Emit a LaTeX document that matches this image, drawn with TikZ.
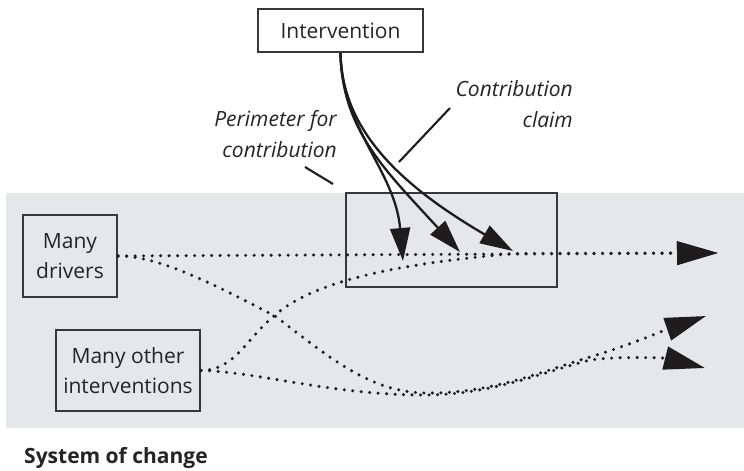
\documentclass[tikz,border=0pt]{standalone}
\usepackage{fontspec}
\setmainfont{Open Sans}
\usetikzlibrary{arrows.meta}
\definecolor{bg}{HTML}{E6E7E9}
\definecolor{frame}{HTML}{383838}
\definecolor{ink}{HTML}{1F1C1D}
\definecolor{txt}{HTML}{242424}
\begin{document}
\begin{tikzpicture}[x=1pt,y=-1pt,
  every node/.style={text=txt, font=\fontsize{21}{30}\selectfont},
  boxnode/.style={draw=frame, line width=2.3pt, inner sep=0pt, align=center},
  lab/.style={font=\fontsize{21}{31}\selectfont\itshape, inner sep=0pt, align=right, anchor=east},
  dots/.style={draw=ink, line width=3.4pt, line cap=round, dash pattern=on 0pt off 8.5pt},
  dtip/.style={-{Triangle[length=41pt,width=23pt]}},
  arr/.style={draw=ink, line width=2.3pt, -{Triangle[length=33pt,width=20pt]}},
  leader/.style={draw=ink, line width=2.1pt}]
\useasboundingbox (0,0) rectangle (744,471);
\fill[bg] (6,193) rectangle (744,428);

% boxes
\node[boxnode, minimum width=165pt, minimum height=43pt] (int) at (340.5,30.5) {Intervention};
\node[boxnode, line width=2.6pt, minimum width=211pt, minimum height=94pt] (per) at (451.5,240) {};
\node[boxnode, minimum width=94pt, minimum height=82pt] (drv) at (70,256) {Many\\drivers};
\node[boxnode, minimum width=144pt, minimum height=81pt] (oth) at (128,370.5) {Many other\\interventions};

% labels
\node[lab] (perl) at (337,134.5) {Perimeter for\\contribution};
\node[lab] (cll) at (573,104.5) {Contribution\\claim};
\node[font=\fontsize{21}{24}\selectfont\bfseries, anchor=west, inner sep=0pt] (sys) at (24,458) {System of change};

% leader lines
\coordinate (pa) at (305,167);
\coordinate (pb) at (333,184);
\coordinate (ca) at (450,108);
\coordinate (cb) at (399,162);
\draw[leader] (pa) -- (pb);
\draw[leader] (ca) -- (cb);

% end points
\coordinate (tA) at (718,253);
\coordinate (tU) at (706,316);
\coordinate (tL) at (705,368);
\coordinate (a1) at (403,261);
\coordinate (a2) at (460,252);
\coordinate (a3) at (513,251);

% dotted flows
\draw[dots, dtip] (drv.east) -- (tA);
\draw[dots, dtip] (drv.east) .. controls (160,256) and (215,285) .. (275,316)
   .. controls (330,358) and (370,392) .. (425,393)
   .. controls (490,394) and (540,372) .. (590,357)
   .. controls (630,345) and (665,330) .. (tU);
\draw[dots, dtip] (oth.east) .. controls (260,372) and (330,395) .. (425,395)
   .. controls (490,395) and (540,373) .. (590,360)
   .. controls (620,356) and (665,358) .. (tL);
\draw[dots, dtip] (oth.east) .. controls (235,370) and (245,340) .. (275,315)
   .. controls (310,285) and (380,265) .. (515,253.5) -- (tA);

% intervention arrows
\draw[arr] (int.south) .. controls (342,130) and (395,170) .. (a1);
\draw[arr] (int.south) .. controls (342,130) and (385,170) .. (a2);
\draw[arr] (int.south) .. controls (342,130) and (400,185) .. (a3);
\end{tikzpicture}
\end{document}
